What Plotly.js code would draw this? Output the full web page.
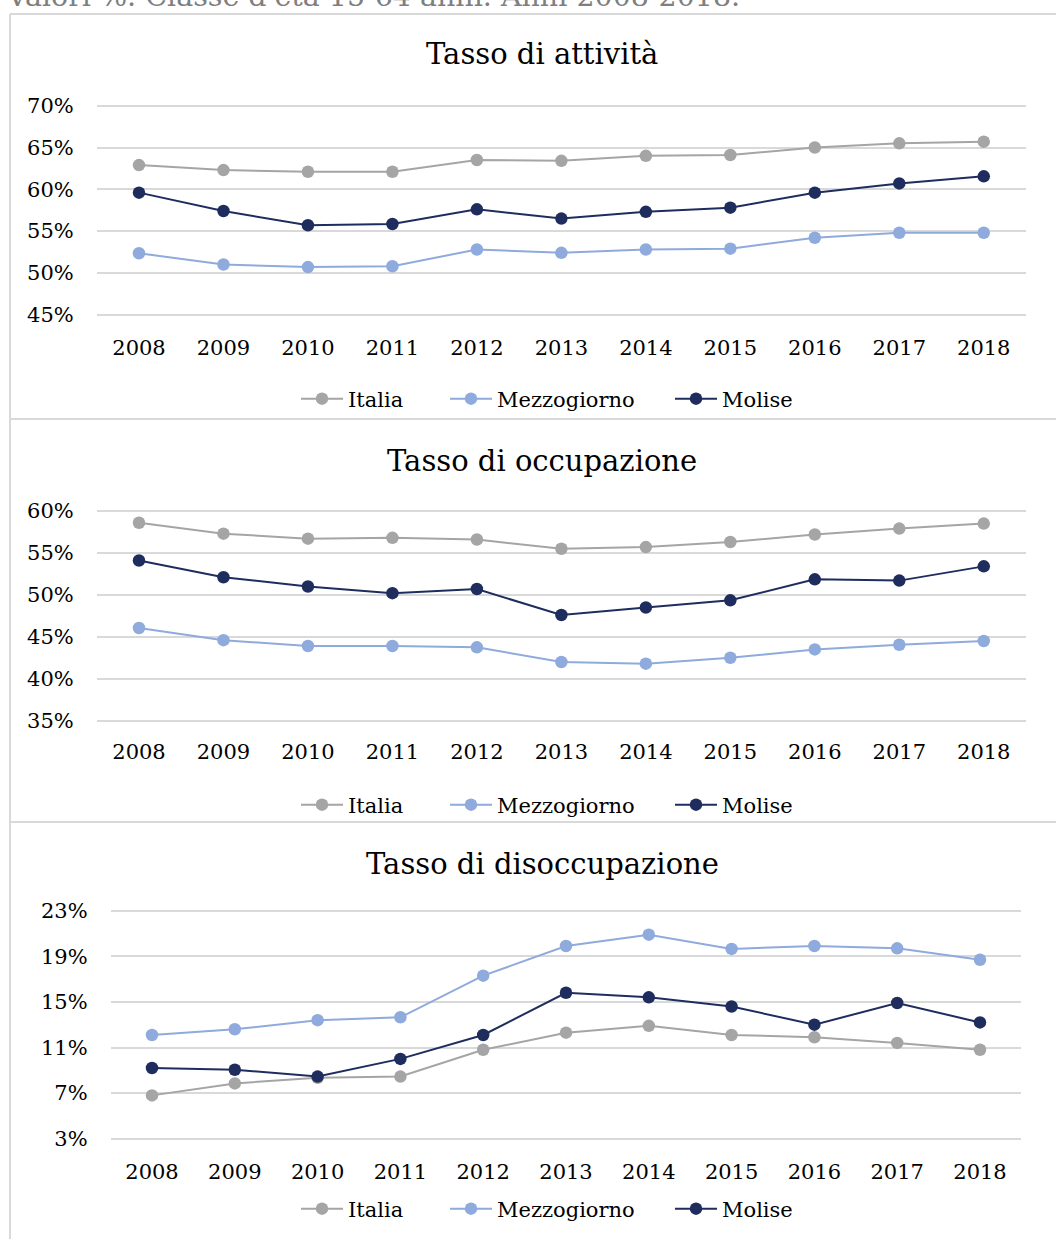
<!DOCTYPE html>
<html>
<head>
<meta charset="utf-8">
<script src="https://cdn.plot.ly/plotly-3.0.1.min.js"></script>
<style>
  html, body { margin: 0; padding: 0; background: #ffffff; }
  #chart { width: 1056px; height: 1239px; }
</style>
</head>
<body>
<div id="chart"></div>
<script>
// ---- Data ----
const years = ["2008","2009","2010","2011","2012","2013","2014","2015","2016","2017","2018"];
const seriesNames = ["Italia", "Mezzogiorno", "Molise"];

// Tasso di attività (%)
const attivitaItalia      = [62.9, 62.3, 62.1, 62.1, 63.5, 63.4, 64.0, 64.1, 65.0, 65.5, 65.7];
const attivitaMezzogiorno = [52.35, 51.0, 50.7, 50.8, 52.8, 52.4, 52.8, 52.9, 54.2, 54.8, 54.8];
const attivitaMolise      = [59.6, 57.4, 55.7, 55.85, 57.6, 56.5, 57.3, 57.8, 59.6, 60.7, 61.55];

// Tasso di occupazione (%)
const occupItalia      = [58.6, 57.3, 56.7, 56.8, 56.6, 55.5, 55.7, 56.3, 57.2, 57.9, 58.5];
const occupMezzogiorno = [46.05, 44.6, 43.9, 43.9, 43.75, 42.0, 41.8, 42.5, 43.5, 44.05, 44.5];
const occupMolise      = [54.1, 52.1, 51.0, 50.2, 50.7, 47.6, 48.5, 49.35, 51.85, 51.7, 53.4];

// Tasso di disoccupazione (%)
const disocItalia      = [6.8, 7.85, 8.35, 8.45, 10.8, 12.3, 12.9, 12.1, 11.9, 11.4, 10.8];
const disocMezzogiorno = [12.1, 12.6, 13.4, 13.65, 17.3, 19.9, 20.9, 19.65, 19.9, 19.7, 18.7];
const disocMolise      = [9.2, 9.05, 8.45, 10.0, 12.1, 15.8, 15.4, 14.6, 13.0, 14.9, 13.2];

const titles = ["Tasso di attività", "Tasso di occupazione", "Tasso di disoccupazione"];
const ticks1 = [45, 50, 55, 60, 65, 70];
const ticks2 = [35, 40, 45, 50, 55, 60];
const ticks3 = [3, 7, 11, 15, 19, 23];
const subtitle = "Valori %. Classe d'età 15-64 anni. Anni 2008-2018.";

// ---- Styles ----
const colors = ["#A5A5A5", "#8FAADC", "#1F2D5E"];
const FONT = "DejaVu Serif, Liberation Serif, serif";
const H = 1239, W = 1056;
const py = p => 1 - p / H;
const px = p => p / W;

const panels = [
  { data: [attivitaItalia, attivitaMezzogiorno, attivitaMolise], x: "x", y: "y", legendY: 399 },
  { data: [occupItalia, occupMezzogiorno, occupMolise], x: "x2", y: "y2", legendY: 805 },
  { data: [disocItalia, disocMezzogiorno, disocMolise], x: "x3", y: "y3", legendY: 1209 }
];
const legendItemX = [296, 445, 670];

const traces = [];
const legends = {};
let li = 1;
panels.forEach(p => {
  p.data.forEach((vals, i) => {
    const key = li === 1 ? "legend" : "legend" + li;
    legends[key] = {
      orientation: "h",
      x: px(legendItemX[i]),
      xanchor: "left",
      y: py(p.legendY),
      yanchor: "middle",
      bgcolor: "rgba(0,0,0,0)",
      itemwidth: 42,
      font: { family: FONT, size: 21, color: "#000000" },
      itemclick: false,
      itemdoubleclick: false
    };
    traces.push({
      type: "scatter",
      mode: "lines+markers",
      x: years,
      y: vals,
      name: seriesNames[i],
      xaxis: p.x,
      yaxis: p.y,
      legend: key,
      line: { color: colors[i], width: 2 },
      marker: { color: colors[i], size: 12.5 },
      hoverinfo: "x+y+name"
    });
    li++;
  });
});

function xaxis(d0, d1, anchor, standoff) {
  return {
    type: "category",
    domain: [px(d0), px(d1)],
    range: [-0.5, 10.5],
    anchor: anchor,
    showgrid: false,
    showline: false,
    zeroline: false,
    ticks: "",
    ticklabelstandoff: standoff,
    tickfont: { family: FONT, size: 21, color: "#000000" },
    fixedrange: true
  };
}
function yaxis(top, bottom, tv, anchor) {
  const lo = tv[0], hi = tv[tv.length - 1];
  const pad = 0.3;
  const ppu = (bottom - top) / (hi - lo);
  return {
    domain: [py(bottom + pad * ppu), py(top - pad * ppu)],
    range: [lo - pad, hi + pad],
    anchor: anchor,
    tickmode: "array",
    tickvals: tv,
    ticktext: tv.map(v => v + "%"),
    showgrid: true,
    gridcolor: "#D9D9D9",
    gridwidth: 2,
    showline: false,
    zeroline: false,
    ticks: "",
    ticklabelstandoff: 22,
    tickfont: { family: FONT, size: 21, color: "#000000" },
    fixedrange: true
  };
}

const lineColor = "#D9D9D9";
const shapes = [
  { type: "line", xref: "paper", yref: "paper", x0: px(10), x1: px(10), y0: py(14), y1: py(1260), line: { color: lineColor, width: 2 } },
  { type: "line", xref: "paper", yref: "paper", x0: px(10), x1: px(1070), y0: py(14), y1: py(14), line: { color: lineColor, width: 2 } },
  { type: "line", xref: "paper", yref: "paper", x0: px(10), x1: px(1070), y0: py(419), y1: py(419), line: { color: lineColor, width: 2 } },
  { type: "line", xref: "paper", yref: "paper", x0: px(10), x1: px(1070), y0: py(822), y1: py(822), line: { color: lineColor, width: 2 } }
];

const titleY = [54, 461, 864];
const annotations = titles.map((t, i) => ({
  text: t,
  xref: "paper", yref: "paper",
  x: px(542), y: py(titleY[i]),
  xanchor: "center", yanchor: "middle",
  showarrow: false,
  font: { family: FONT, size: 29, color: "#000000" }
}));
annotations.push({
  text: subtitle,
  xref: "paper", yref: "paper",
  x: px(4), y: py(15),
  xanchor: "left", yanchor: "bottom",
  showarrow: false,
  font: { family: FONT, size: 28.5, color: "#7F7F7F" }
});

const layout = Object.assign({
  width: W,
  height: H,
  margin: { l: 0, r: 0, t: 0, b: 0 },
  paper_bgcolor: "#ffffff",
  plot_bgcolor: "#ffffff",
  showlegend: true,
  xaxis: xaxis(96.75, 1026, "y", 16),
  yaxis: yaxis(105.7, 314.7, ticks1, "x"),
  xaxis2: xaxis(96.75, 1026, "y2", 14),
  yaxis2: yaxis(511, 720.7, ticks2, "x2"),
  xaxis3: xaxis(110.6, 1021.4, "y3", 15),
  yaxis3: yaxis(910.7, 1138.7, ticks3, "x3"),
  shapes: shapes,
  annotations: annotations,
  hovermode: "closest"
}, legends);

Plotly.newPlot("chart", traces, layout, { displayModeBar: false });
</script>
</body>
</html>
